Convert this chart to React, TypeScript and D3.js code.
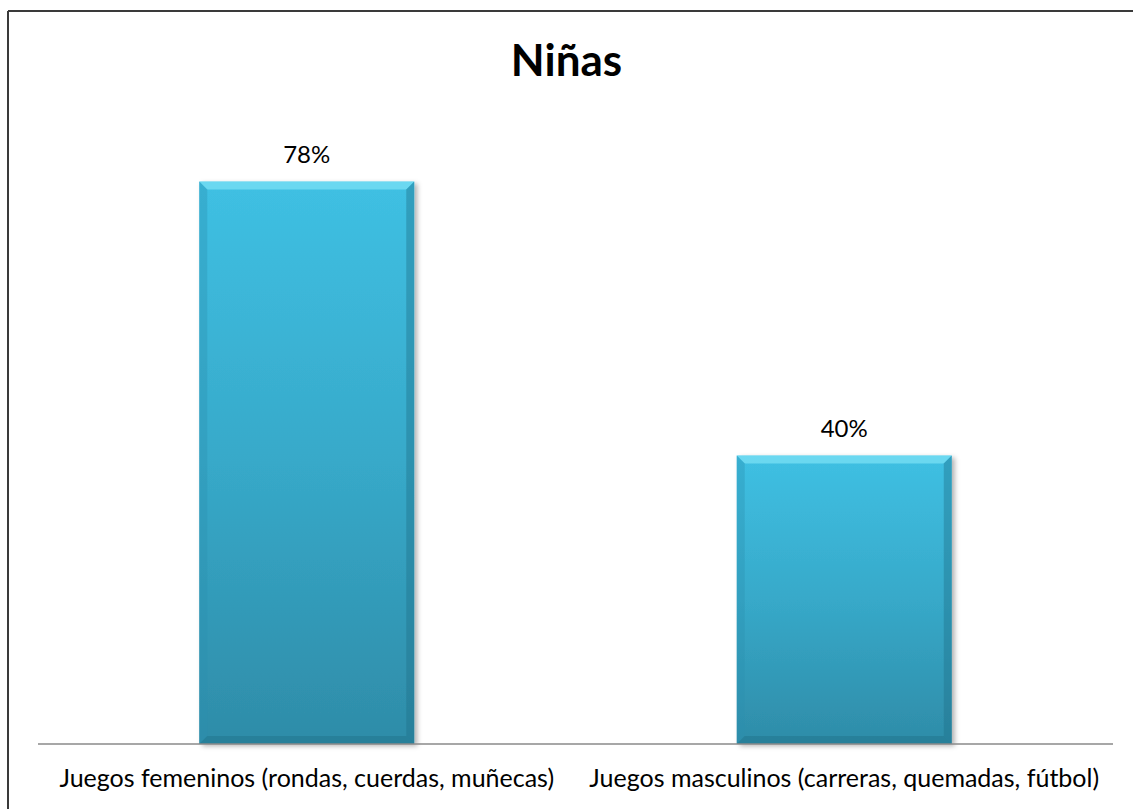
import * as d3 from "d3";

const categories = [
  "Juegos femeninos (rondas, cuerdas, muñecas)",
  "Juegos masculinos (carreras, quemadas, fútbol)",
];
const values = [0.78, 0.4];
const valueLabels = ["78%", "40%"];
const title = "Niñas";

const W = 1133;
const H = 809;
const plotLeft = 38;
const plotRight = 1113;
const baseY = 744;
const FONT = "Lato, 'Open Sans', sans-serif";

export default function App() {
  const x = d3
    .scaleBand<string>()
    .domain(categories)
    .range([plotLeft, plotRight])
    .paddingInner(0.6)
    .paddingOuter(0.3);
  const y = d3.scaleLinear().domain([0, 1]).range([baseY, 23]);
  const bw = x.bandwidth();
  const bev = 8;

  return (
    <svg
      width={W}
      height={H}
      style={{ position: "absolute", left: 0, top: 0, display: "block", background: "#fff" }}
    >
      <defs>
        <linearGradient id="barGrad" x1="0" y1="0" x2="0" y2="1">
          <stop offset="0" stopColor="#3fc0e3" />
          <stop offset="0.5" stopColor="#37a9c9" />
          <stop offset="1" stopColor="#2e8ca8" />
        </linearGradient>
        <filter id="shadow" x="-10%" y="-10%" width="130%" height="130%">
          <feDropShadow dx="3" dy="2" stdDeviation="2.5" floodColor="#000" floodOpacity="0.3" />
        </filter>
      </defs>

      {/* chart border */}
      <line x1={8} y1={11} x2={8} y2={H} stroke="#3a3a3a" strokeWidth={2} />
      <line x1={8} y1={11} x2={W} y2={11} stroke="#3a3a3a" strokeWidth={2} />

      <text
        x={W / 2}
        y={76}
        textAnchor="middle"
        fontFamily={FONT}
        fontWeight="bold"
        fontSize={44}
        fill="#000"
      >
        {title}
      </text>

      {categories.map((c, i) => {
        const x0 = x(c) ?? 0;
        const top = y(values[i]);
        const x1 = x0 + bw;
        const pts = (p: number[][]) => p.map((d) => d.join(",")).join(" ");
        return (
          <g key={c}>
            <rect
              x={x0}
              y={top}
              width={bw}
              height={baseY - top}
              fill="url(#barGrad)"
              filter="url(#shadow)"
            />
            {/* bevel edges */}
            <polygon
              points={pts([[x0, top], [x1, top], [x1 - bev, top + bev], [x0 + bev, top + bev]])}
              fill="#7ee3f7"
              opacity={0.7}
            />
            <polygon
              points={pts([[x0, top], [x0 + bev, top + bev], [x0 + bev, baseY - bev], [x0, baseY]])}
              fill="#2b8fae"
              opacity={0.35}
            />
            <polygon
              points={pts([[x1, top], [x1 - bev, top + bev], [x1 - bev, baseY - bev], [x1, baseY]])}
              fill="#1d6f88"
              opacity={0.4}
            />
            <polygon
              points={pts([[x0, baseY], [x0 + bev, baseY - bev], [x1 - bev, baseY - bev], [x1, baseY]])}
              fill="#1f6d85"
              opacity={0.4}
            />
            <text
              x={x0 + bw / 2}
              y={top - 19}
              textAnchor="middle"
              fontFamily={FONT}
              fontSize={24}
              fill="#000"
            >
              {valueLabels[i]}
            </text>
            <text
              x={x0 + bw / 2}
              y={787}
              textAnchor="middle"
              fontFamily={FONT}
              fontSize={25}
              fill="#000"
            >
              {c}
            </text>
          </g>
        );
      })}

      <line x1={plotLeft} y1={baseY} x2={plotRight} y2={baseY} stroke="#8a8a8a" strokeWidth={1.5} />
    </svg>
  );
}
